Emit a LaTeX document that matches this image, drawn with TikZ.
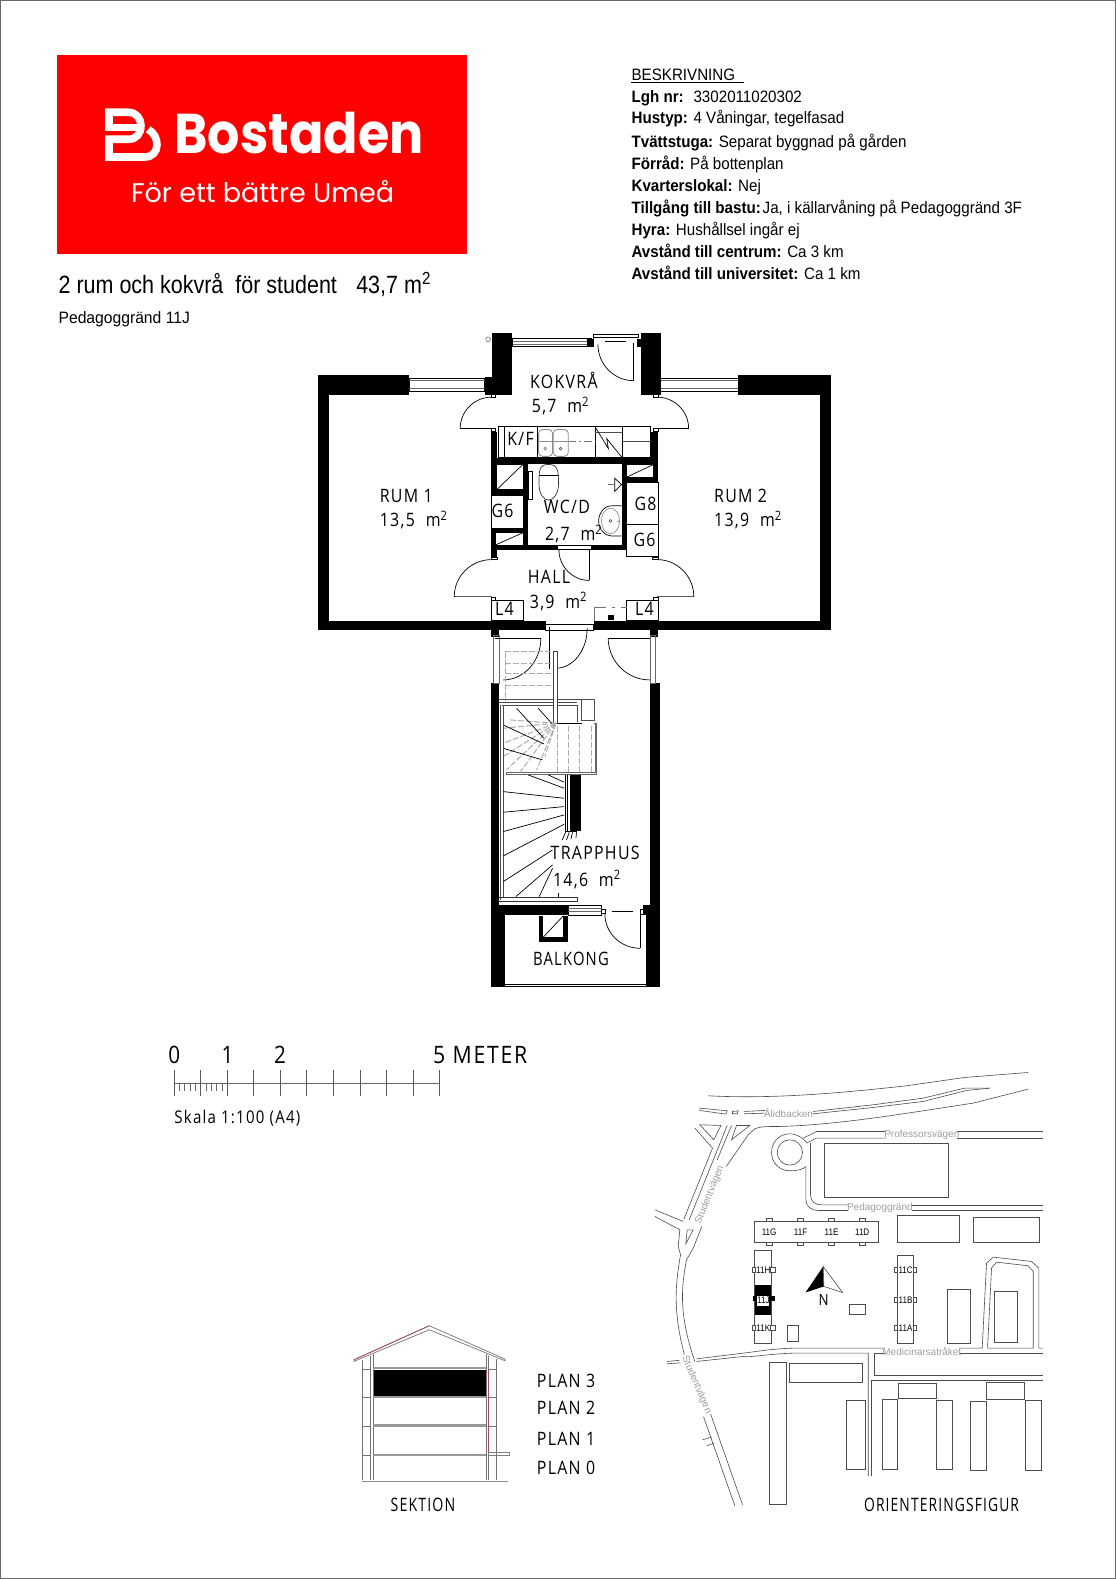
\documentclass[tikz,border=0pt]{standalone}
\usepackage{fontspec}
\usepackage{graphicx}
\usetikzlibrary{calc}
\setmainfont{Liberation Sans}
\newfontfamily\iso[LetterSpace=7,FakeStretch=0.86]{Open Sans}
\newfontfamily\pop{Poppins}
\newcommand\qa[3]{(#1) .. controls ($(#1)!.55!(#3)$) and ($(#2)!.55!(#3)$) .. (#2)}
\newcommand\kv[2]{\textbf{#1} #2}
\newcommand\htext[1]{\scalebox{.918}[1]{#1}}
\newcommand\bt[1]{\scalebox{.85}[1]{#1}}
\definecolor{roadc}{gray}{.3}
\definecolor{lab}{gray}{.62}
\definecolor{pinkr}{RGB}{165,70,105}
\tikzset{
 wall/.style={fill=black,draw=none},
 ln/.style={draw=black,line width=.7pt},
 box/.style={draw=black,line width=.7pt,fill=white},
 grayln/.style={draw=black!55,line width=.7pt},
 stepgray/.style={draw=black!32,line width=1pt,dash pattern=on 6pt off 2pt},
 iso12/.style={font=\iso\fontsize{18.5}{20}\selectfont,inner sep=0pt},
 roomlab/.style={iso12,anchor=base west},
 info/.style={font=\fontsize{16.5}{18}\selectfont,anchor=base west,inner sep=0pt},
 road/.style={draw=roadc,line width=.6pt},
 rlab/.style={font=\fontsize{10}{12}\selectfont,text=lab,inner sep=0pt},
 rlabw/.style={rlab,fill=white,inner sep=1.5pt},
 blab/.style={font=\fontsize{9.5}{12}\selectfont,inner sep=0pt},
}
\begin{document}
\begin{tikzpicture}[x=1.0072pt,y=-1.0072pt,line join=miter]
\useasboundingbox (0,0) rectangle (1108,1568);
\fill[white] (0,0) rectangle (1108,1568);
\draw[black!60,line width=1pt] (0.4,0.4) rectangle (1107.6,1567.6);

% ---------- logo
\fill[red] (57,55) rectangle (464,252);
\begin{scope}[shift={(94.3,94.3)},x=.3334pt,y=-.3334pt,draw=white,line width=7.6pt]
\draw (42,108) -- (42,52) -- (100,52) .. controls (125,52) and (138,72) .. (138,92)
  .. controls (138,115) and (125,133) .. (100,133) -- (42,133) -- (42,186) -- (150,186)
  .. controls (172,186) and (186,170) .. (186,150) .. controls (186,130) and (178,115) .. (160,103);
\draw (42,98) -- (128,98);
\end{scope}
\node[font=\pop\bfseries\fontsize{56}{60}\selectfont,text=white,inner sep=0pt,anchor=base west] (brand) at (173,152) {\scalebox{.907}[1]{Bostaden}};
\node[font=\pop\fontsize{27}{30}\selectfont,text=white,inner sep=0pt,anchor=base west] (slogan) at (130,201) {För ett bättre Umeå};

% ---------- header text
\node[font=\fontsize{25}{28}\selectfont,anchor=base west,inner sep=0pt] (title) at (58,291) {\scalebox{.86}[1]{2 rum och kokvrå\ \ för student\hspace{.9em}43,7 m\textsuperscript{2}}};
\node[font=\fontsize{16.5}{18}\selectfont,anchor=base west,inner sep=0pt] (addr) at (58,321) {\scalebox{.95}[1]{Pedagoggränd 11J}};

\node[info] (d0) at (627,80) {\htext{BESKRIVNING}};
\draw[black,line width=.8pt] (627,82) -- (739,82);
\node[info] (d1) at (627,102) {\htext{\kv{Lgh nr:}{\ 3302011020302}}};
\node[info] (d2) at (627,123) {\htext{\kv{Hustyp:}{4 Våningar, tegelfasad}}};
\node[info] (d3) at (627,146) {\htext{\kv{Tvättstuga:}{Separat byggnad på gården}}};
\node[info] (d4) at (627,168) {\htext{\kv{Förråd:}{På bottenplan}}};
\node[info] (d5) at (627,190) {\htext{\kv{Kvarterslokal:}{Nej}}};
\node[info] (d6) at (627,212) {\htext{\textbf{Tillgång till bastu:}\hspace{.12em}Ja, i källarvåning på Pedagoggränd 3F}};
\node[info] (d7) at (627,234) {\htext{\kv{Hyra:}{Hushållsel ingår ej}}};
\node[info] (d8) at (627,256) {\htext{\kv{Avstånd till centrum:}{Ca 3 km}}};
\node[info] (d9) at (627,278) {\htext{\kv{Avstånd till universitet:}{Ca 1 km}}};

% ---------- upper floor plan
\begin{scope}[shift={(299.4,316.9)},x=.3488pt,y=-.3364pt]
\fill[wall] (48,165) rectangle (308,225);
\fill[wall] (48,165) rectangle (80,925);
\fill[wall] (48,897) rectangle (700,925);
\fill[wall] (838,897) rectangle (1518,925);
\fill[wall] (1487,165) rectangle (1518,925);
\fill[wall] (1252,165) rectangle (1518,225);
\fill[wall] (546,40) rectangle (604,225);
\fill[wall] (527,172) rectangle (546,225);
\fill[wall] (973,40) rectangle (1032,225);
% core walls
\fill[wall] (543,335) rectangle (562,715);
\fill[wall] (1000,335) rectangle (1022,485);
\fill[wall] (543,412) rectangle (1022,430);
\fill[wall] (635,430) rectangle (650,685);
\fill[wall] (543,672) rectangle (932,685);
\fill[wall] (918,430) rectangle (932,685);
\fill[wall] (543,507) rectangle (635,525);
\fill[wall] (543,622) rectangle (635,633);
\fill[wall] (932,470) rectangle (1022,485);
\fill[wall] (543,925) rectangle (567,945);
\fill[wall] (998,925) rectangle (1022,945);
% wall stubs
\foreach \a/\b/\c/\d in {543/225/556/233,1010/225/1023/233,543/325/556/335,1010/325/1023/335,543/707/562/715,1005/707/1023/715,543/827/556/835,1010/827/1023/835}
  \draw[box] (\a,\b) rectangle (\c,\d);
% windows
\foreach \a/\b/\c/\d in {308/175/525/215,1030/175/1252/215,606/58/830/82}{
  \draw[box] (\a,\b) rectangle (\c,\d);
  \draw[ln,black!60] (\a,\b+8) -- (\c,\b+8) (\a,\d-8) -- (\c,\d-8);
}
\fill[wall] (820,60) rectangle (838,82);
\draw[box] (838,45) rectangle (965,55);
\draw[ln] (838,55) -- (838,65) (870,66) -- (930,66);
\fill[wall] (962,60) rectangle (973,82);
\draw[ln] (952,72) -- (952,183);
\draw[ln] \qa{850,75}{952,183}{850,183};
\draw[black!55,line width=.6pt] (535,60) circle[radius=7];
% openings
\draw[ln] \qa{545,232}{455,325}{455,232} -- (545,325);
\draw[ln] \qa{1020,232}{1110,325}{1110,232} -- (1020,325);
\draw[ln] \qa{545,715}{438,825}{438,715} -- (545,825);
\draw[ln] \qa{1020,715}{1125,825}{1125,715} -- (1020,825);
% kitchen
\draw[box] (565,320) rectangle (1000,412);
\draw[ln] (581,320) -- (581,412) (675,320) -- (675,412) (843,320) -- (843,412) (920,320) -- (920,412);
\draw[ln,black!70] (843,337) -- (920,337) (920,362) -- (1000,362);
\draw[ln] (843,322) -- (880,385) -- (875,355) -- (918,410);
\draw[grayln,dash pattern=on 8pt off 3pt on 2pt off 3pt] (765,362) -- (843,362);
\draw[draw=black!45,line width=.8pt,rounded corners=4pt,fill=white] (680,328) rectangle (720,408);
\draw[draw=black!45,line width=.8pt,rounded corners=4pt,fill=white] (722,328) rectangle (765,408);
\draw[draw=black!45,line width=.6pt] (680,362)--(765,362);
\draw[black!60,line width=.6pt] (699,385) circle[radius=4] (743,385) circle[radius=4];
% shafts and cupboards
\draw[box] (560,432) rectangle (635,507);
\draw[ln] (560,507) -- (635,432);
\draw[box] (543,525) rectangle (635,622);
\draw[box] (555,633) rectangle (635,672);
\draw[ln] (555,672) -- (635,635);
\draw[box] (932,432) rectangle (1010,470);
\draw[ln] (932,470) -- (1010,432);
\draw[box] (932,485) rectangle (1022,610);
\draw[box] (932,610) rectangle (1022,705);
\draw[box] (543,835) rectangle (635,897);
\draw[box] (932,835) rectangle (1022,897);
% WC fittings
\draw[ln] (650,452) rectangle (662,535);
\draw[ln,black!80] (681,490) .. controls (681,520) and (695,538) .. (708,538) .. controls (722,538) and (737,520) .. (737,490) .. controls (737,450) and (735,432) .. (708,432) .. controls (681,432) and (681,450) .. (681,490) -- cycle;
\draw[ln,line width=1pt] (681,466) -- (737,466);
\draw[ln] (898,473) -- (918,492) -- (898,512) -- cycle;
\draw[grayln] (878,491) -- (895,491);
\draw[ln] (918,555) -- (890,555) .. controls (865,555) and (852,580) .. (852,600) .. controls (852,625) and (870,645) .. (890,645) -- (918,645);
\draw[black!45,line width=.7pt] (886,600) ellipse[x radius=26,y radius=38];
\draw[black!70,line width=.6pt] (886,600) circle[radius=4];
\fill[black!55] (908,601) circle[radius=2];
% hall door
\draw[box] (733,672) rectangle (830,685);
\draw[ln] (825,685) -- (825,777);
\draw[ln] \qa{738,685}{825,777}{738,777};
% dashed
\draw[grayln,dash pattern=on 12pt off 6pt on 3pt off 6pt] (840,857) -- (932,857);
\draw[grayln] (840,857) -- (840,897);
\fill[black] (880,880) rectangle (895,895);
% entrance opening
\fill[white] (700,897) rectangle (838,925);
\draw[box] (700,908) rectangle (837,925);
\end{scope}

% ---------- staircase and balcony
\begin{scope}[shift={(466.6,615.6)},x=.3334pt,y=-.3334pt]
\fill[wall] (62,190) rectangle (87,1100);
\fill[wall] (540,190) rectangle (570,1100);
\fill[wall] (62,855) rectangle (105,1100);
\fill[wall] (528,855) rectangle (570,1100);
\fill[wall] (62,855) rectangle (295,885);
\draw[ln,black!60] (70,45) rectangle (87,190);
\draw[ln,black!60] (540,45) rectangle (555,190);
% door to left
\draw[ln] (75,55) -- (213,55);
\draw[ln] \qa{213,55}{100,180}{213,180};
\draw[ln] (415,55) -- (540,55);
\draw[ln] \qa{415,55}{540,180}{415,180};
% entrance door leaf
\draw[ln] (237,20) -- (237,148);
\draw[ln] \qa{352,25}{258,145}{352,145};
% upper dashed flight
\foreach \y in {95,130,160,197} \draw[stepgray] (105,\y) -- (250,\y);
\draw[stepgray] (108,95) -- (108,240);
% landing lines
\draw[ln,black!70] (87,238) -- (372,238) -- (372,300) -- (335,300) -- (335,238);
\draw[ln,black!70] (87,248) -- (322,248);
\draw[ln,black!70] (95,255) -- (322,255) -- (322,305);
\draw[ln,black!75,fill=white] (250,95) rectangle (263,310);
\draw[ln] (263,310) -- (335,310);
\draw[ln,black!60] (372,310) -- (380,310) -- (380,462) -- (108,462) -- (108,458) -- (375,458) -- (375,310);
% winder steps
\foreach \a/\b in {120/300,100/325,100/370,100/410,110/450,150/458,200/450,225/410,240/360}
  \draw[stepgray] (258,310) -- (\a,\b);
\foreach \x in {262,295,330,365} \draw[stepgray] (\x,318) -- (\x,455);
\draw[ln] (140,265) -- (222,355) (205,265) -- (245,310) (100,315) -- (222,372) (100,385) -- (218,420);
% lower flight
\draw[ln,black!70] (92,255) -- (92,840) (100,255) -- (100,830);
\draw[ln,black!80] (87,832) -- (322,832) -- (322,845) -- (87,845);
\foreach \a/\b/\c/\d in {235/465/283/487,175/465/283/505,100/515/283/535,100/577/283/560,100/635/283/585,100/708/283/613,100/785/248/690,138/830/248/735,208/830/248/745,265/830/265/818}
  \draw[ln] (\a,\b) -- (\c,\d);
\fill[wall] (300,465) rectangle (332,632);
\draw[ln] (285,465) -- (285,632) (292,465) -- (292,632) (285,635) -- (322,635);
\draw[ln] (277,660) -- (287,637) (290,660) -- (298,637) (303,658) -- (308,637) (318,655) -- (320,637);
% balcony
\draw[box] (295,855) rectangle (395,885);
\draw[ln,black!60] (295,865) -- (395,865) (295,875) -- (395,875);
\draw[ln] (395,868) rectangle (405,880);
\draw[ln] (425,873) -- (490,873);
\draw[ln] (512,868) rectangle (520,882);
\fill[wall] (520,855) rectangle (530,885);
\draw[ln] (510,882) -- (510,985);
\draw[ln] \qa{405,882}{510,985}{405,985};
\fill[wall] (207,888) rectangle (293,965);
\fill[white] (220,888) rectangle (280,952);
\draw[ln] (220,952) -- (280,888);
\draw[ln] (105,1092) -- (528,1092);
\draw[ln,line width=.9pt] (105,1100) -- (528,1100);
\end{scope}

% ---------- room labels
\node[iso12,anchor=center] (kok) at (560,378) {KOKVRÅ};
\node[roomlab] (koka) at (528,410) {5,7\ \ m\textsuperscript{2}};
\node[roomlab] (r1) at (377,499) {RUM 1};
\node[roomlab] (r1a) at (377,523) {13,5\ \ m\textsuperscript{2}};
\node[roomlab] (r2) at (709,499) {RUM 2};
\node[roomlab] (r2a) at (709,523) {13,9\ \ m\textsuperscript{2}};
\node[roomlab] (wc) at (540,510) {WC/D};
\node[roomlab] (wca) at (541,537) {2,7\ \ m\textsuperscript{2}};
\node[roomlab] (hall) at (524,579) {HALL};
\node[roomlab] (halla) at (526,604) {3,9\ \ m\textsuperscript{2}};
\node[iso12,anchor=center] (kf) at (517,436) {K/F};
\node[iso12,anchor=center] (g6a) at (499,507) {G6};
\node[iso12,anchor=center] (g8) at (641,500) {G8};
\node[iso12,anchor=center] (g6b) at (640,536) {G6};
\node[iso12,anchor=center] (l4a) at (501,605) {L4};
\node[iso12,anchor=center] (l4b) at (640,605) {L4};
\node[iso12,anchor=center] (trap) at (591,847) {TRAPPHUS};
\node[roomlab] (trapa) at (549,880) {14,6\ \ m\textsuperscript{2}};
\node[iso12,anchor=center] (balk) at (567,952) {\scalebox{.93}[1]{BALKONG}};

% ---------- scale bar
\node[iso12,anchor=base,font=\iso\fontsize{24}{26}\selectfont] (s0) at (173,1056) {0};
\node[iso12,anchor=base,font=\iso\fontsize{24}{26}\selectfont] (s1) at (226,1056) {1};
\node[iso12,anchor=base,font=\iso\fontsize{24}{26}\selectfont] (s2) at (278,1056) {2};
\node[iso12,anchor=base west,font=\iso\fontsize{24}{26}\selectfont] (s5) at (430,1056) {\scalebox{1.03}[1]{5 METER}};
\draw[black!60,line width=.9pt] (173,1075.7) -- (436.5,1075.7);
\foreach \i in {0,...,10} \draw[black!65,line width=.8pt] ({173+\i*26.35},1063) -- ({173+\i*26.35},1088);
\foreach \i in {1,2,3,4,6,7,8,9} \draw[black!60,line width=.7pt] ({173+\i*5.27},1075.7) -- ({173+\i*5.27},1083);
\node[roomlab,font=\iso\fontsize{17.5}{18}\selectfont] (skala) at (173,1116) {Skala 1:100 (A4)};

% ---------- section
\begin{scope}[shift={(337.6,1300.6)},x=.3334pt,y=-.3334pt]
\fill[black] (100,180) rectangle (438,258);
\draw[black!55,line width=.7pt] (42,150) -- (268,48) -- (495,148) -- (495,153) -- (268,60) -- (42,155) -- cycle;
\draw[pinkr,line width=.7pt] (42,150) -- (268,48);
\draw[black!55,line width=.7pt] (67,150) -- (67,512) (92,138) -- (92,512) (100,134) -- (100,512) (438,134) -- (438,512) (446,138) -- (446,512) (468,148) -- (468,512);
\draw[black!40,line width=1.6pt] (100,175) -- (438,175) (100,262) -- (438,262);
\draw[black!40,line width=2.8pt] (100,347) -- (438,347);
\draw[black!40,line width=2pt] (100,435) -- (438,435);
\draw[black!55,line width=.7pt] (67,180) -- (92,180) (67,262) -- (92,262) (67,350) -- (92,350) (67,437) -- (92,437) (446,180) -- (468,180) (446,262) -- (468,262) (446,350) -- (468,350);
\draw[pinkr,line width=.7pt] (445,180) -- (445,428);
\draw[black!50,line width=.7pt] (446,427) -- (508,427) -- (508,437) -- (446,437);
\draw[black!45,line width=1.6pt] (67,515) -- (505,515);
\end{scope}
\node[roomlab] (p3) at (533,1378) {PLAN 3};
\node[roomlab] (p2) at (533,1405) {PLAN 2};
\node[roomlab] (p1) at (533,1435) {PLAN 1};
\node[roomlab] (p0) at (533,1464) {PLAN 0};
\node[iso12,anchor=center] (sek) at (420,1494) {\scalebox{.89}[1]{SEKTION}};

% ---------- orientation map
\begin{scope}[shift={(635.4,1052.4)},x=.3334pt,y=-.3334pt]
\draw[road] (205,108) .. controls (400,118) and (600,100) .. (800,78) -- (975,53) -- (1165,38);
\draw[road] (520,155) -- (700,135) -- (850,115) -- (975,85) -- (1050,85);
\draw[road] (520,162) -- (700,143) -- (850,125) -- (980,92) -- (1050,85);
\draw[road] (345,207) .. controls (360,200) and (380,200) .. (420,200) .. controls (600,195) and (800,160) .. (1000,130) -- (1165,88);
\draw[road] (180,145) -- (262,153) -- (258,163) -- (180,152) -- cycle;
\draw[road] (278,155) -- (295,153) -- (292,162) -- (278,162) -- cycle;
\draw[road] (312,155) -- (375,152) (312,162) -- (375,160);
\draw[road] (180,195) -- (243,197) -- (222,240) -- cycle;
\draw[road] (290,197) -- (330,197) -- (275,240) -- cycle;
\draw[road] (165,205) -- (218,265) -- (132,478);
\draw[road] (262,197) -- (148,480);
\draw[road] (275,197) -- (232,300);
\draw[road] (345,207) -- (325,225) -- (258,322);
\draw[road] (190,490) -- (160,565);
\draw[road] (45,450) -- (130,485) (45,470) -- (120,510);
\draw[road] (142,510) -- (160,510) -- (138,552) -- cycle;
\draw[road] (120,510) -- (115,560) -- (122,585) .. controls (105,680) and (100,760) .. (135,890);
\draw[road] (160,565) -- (140,600) .. controls (125,680) and (115,760) .. (165,905);
\draw[road] (190,1068) -- (285,1338) (212,1062) -- (308,1335);
\draw[road] (200,1158) -- (222,1150) (188,1140) -- (215,1132);
\draw[road] (82,905) -- (135,900) (82,912) -- (135,908);
\draw[road] (170,897) -- (310,880) (170,905) -- (310,890);
\draw[road] (310,880) .. controls (320,880) and (400,865) .. (470,865) -- (735,865);
\draw[road] (310,890) .. controls (320,895) and (400,880) .. (470,880) -- (685,880) -- (685,1250);
\draw[road] (695,1250) -- (695,960) -- (1210,960);
\draw[road] (735,880) -- (703,880) -- (703,945) -- (1210,945);
\draw[road] (958,880) -- (1210,880);
\draw[road] (958,865) -- (1027,865) -- (1040,610) -- (1060,592) -- (1175,605) -- (1197,625) -- (1197,865) -- (1210,865);
\draw[road] (1043,865) -- (1055,625) -- (1070,607) -- (1165,618) -- (1180,635) -- (1180,865) -- cycle;
% roundabout
\draw[road] (500,248) .. controls (480,222) and (450,222) .. (450,222) .. controls (415,222) and (395,250) .. (395,278) .. controls (395,305) and (415,333) .. (450,333) .. controls (475,333) and (490,328) .. (498,320);
\draw[road] (450,278) circle[radius=38];
\draw[road] (490,235) -- (530,215) -- (738,215) (500,250) -- (530,235) -- (738,235);
\draw[road] (950,215) -- (1210,215) (950,235) -- (1210,235);
\draw[road] (512,250) -- (512,405) .. controls (512,425) and (525,435) .. (545,435) -- (625,435);
\draw[road] (498,320) -- (498,420) .. controls (498,440) and (515,452) .. (535,452) -- (625,452);
\draw[road] (815,435) -- (1210,435) (815,452) -- (1210,452);
% blocks
\foreach \a/\b/\c/\d in {552/252/924/412,771/467/958/546,1000/472/1197/546,923/688/990/850,1063/693/1133/848,628/733/676/762,443/796/475/844,388/907/440/1332,447/910/667/968,619/1020/677/1228,727/1017/771/1228,889/1020/936/1228,776/970/889/1015,990/1025/1040/1232,1157/1020/1205/1232,1038/968/1153/1018}
  \draw[road] (\a,\b) rectangle (\c,\d);
% long block with entries
\foreach \x in {388,482,574,667} \draw[road] (\x-9,485) -- (\x-9,476) -- (\x+9,476) -- (\x+9,485) (\x-9,546) -- (\x-9,555) -- (\x+9,555) -- (\x+9,546);
\draw[road] (344,485) rectangle (714,546);
\draw[road] (344,570) rectangle (394,850);
\draw[road] (771,585) rectangle (820,850);
\fill[black] (344,675) rectangle (394,765);
\fill[black] (338,708) rectangle (405,725);
\fill[white] (350,708) rectangle (388,738);
\foreach \y in {630,804}{
  \draw[road,fill=white] (338,\y-8) rectangle (345,\y+8);
  \draw[road,fill=white] (392,\y-8) rectangle (405,\y+8);
}
\foreach \y in {630,720,804}{
  \draw[road,fill=white] (762,\y-8) rectangle (772,\y+8);
  \draw[road,fill=white] (819,\y-8) rectangle (830,\y+8);
}
% north
\fill[black] (550,620) -- (497,698) -- (552,680) -- cycle;
\draw[road,fill=white] (550,620) -- (608,698) -- (552,680) -- cycle;
\end{scope}
\node[rlab] (n1) at (783.0,1105.4) {Ålidbacken};
\node[rlab] (n2) at (915.4,1127.2) {Professorsvägen};
\node[rlab] (n3) at (873.7,1199) {Pedagoggränd};
\node[rlab] (n4) at (915.4,1342.4) {Medicinarsatråket};
\node[rlabw,rotate=68] (n5) at (704.9,1186.5) {Studentvägen};
\node[rlabw,rotate=-67] (n6) at (691.7,1375.1) {Studentvägen};
\node[blab] (b1) at (763.8,1223.5) {\bt{11G}};
\node[blab] (b2) at (795,1223.5) {\bt{11F}};
\node[blab] (b3) at (825.8,1223.5) {\bt{11E}};
\node[blab] (b4) at (856.2,1223.5) {\bt{11D}};
\node[blab] (b5) at (758,1261) {\bt{11H}};
\node[blab] (b6) at (758,1291) {\bt{11J}};
\node[blab] (b7) at (758,1318.5) {\bt{11K}};
\node[blab] (b8) at (899.3,1261) {\bt{11C}};
\node[blab] (b9) at (899.3,1291) {\bt{11B}};
\node[blab] (b10) at (899.3,1318.5) {\bt{11A}};
\node[font=\iso\fontsize{15.5}{18}\selectfont,inner sep=0pt] (north) at (818,1291) {N};
\node[iso12,anchor=center] (orient) at (935,1494) {\scalebox{.87}[1]{ORIENTERINGSFIGUR}};
\end{tikzpicture}
\end{document}
